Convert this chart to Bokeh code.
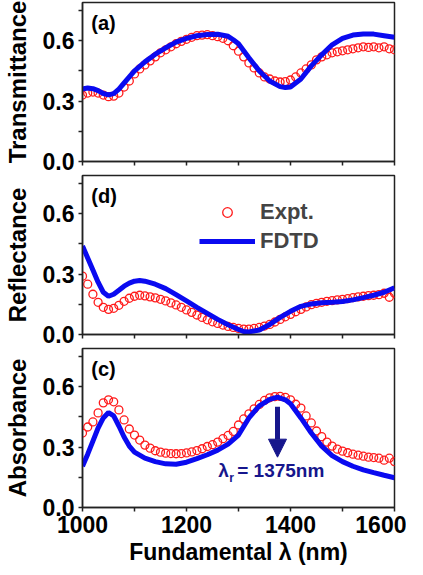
from bokeh.plotting import figure
from bokeh.layouts import column
from bokeh.models import (FixedTicker, Range1d, Legend, LegendItem, Label, Arrow,
                          NormalHead, NumeralTickFormatter, CustomLabelingPolicy)
from bokeh.embed import file_html
from bokeh.resources import INLINE

# ---------------- data ----------------
wl_expt = [1000, 1010, 1020, 1030, 1040, 1050, 1060, 1070, 1080, 1090,
           1100, 1110, 1120, 1130, 1140, 1150, 1160, 1170, 1180, 1190,
           1200, 1210, 1220, 1230, 1240, 1250, 1260, 1270, 1280, 1290,
           1300, 1310, 1320, 1330, 1340, 1350, 1360, 1370, 1380, 1390,
           1400, 1410, 1420, 1430, 1440, 1450, 1460, 1470, 1480, 1490,
           1500, 1510, 1520, 1530, 1540, 1550, 1560, 1570, 1580, 1590, 1600]

T_expt = [0.33, 0.34, 0.345, 0.34, 0.33, 0.322, 0.325, 0.34, 0.37, 0.40,
          0.435, 0.46, 0.48, 0.50, 0.52, 0.54, 0.555, 0.57, 0.585, 0.597,
          0.607, 0.617, 0.625, 0.628, 0.63, 0.625, 0.62, 0.612, 0.60, 0.575,
          0.548, 0.52, 0.49, 0.465, 0.44, 0.42, 0.41, 0.40, 0.395, 0.397,
          0.405, 0.42, 0.44, 0.46, 0.48, 0.505, 0.52, 0.53, 0.54, 0.545,
          0.55, 0.555, 0.56, 0.565, 0.57, 0.567, 0.57, 0.565, 0.57, 0.56, 0.555]

R_expt = [0.29, 0.25, 0.20, 0.16, 0.135, 0.125, 0.13, 0.145, 0.165, 0.18,
          0.19, 0.195, 0.192, 0.187, 0.182, 0.175, 0.167, 0.157, 0.147, 0.135,
          0.122, 0.11, 0.097, 0.085, 0.073, 0.063, 0.055, 0.047, 0.04, 0.035,
          0.03, 0.027, 0.027, 0.03, 0.035, 0.042, 0.05, 0.062, 0.075, 0.088,
          0.10, 0.113, 0.125, 0.137, 0.148, 0.155, 0.16, 0.165, 0.168, 0.172,
          0.175, 0.178, 0.183, 0.187, 0.19, 0.193, 0.195, 0.198, 0.205, 0.185, 0.205]

A_expt = [0.37, 0.40, 0.425, 0.47, 0.52, 0.535, 0.525, 0.485, 0.435, 0.39,
          0.36, 0.335, 0.31, 0.295, 0.282, 0.275, 0.27, 0.268, 0.267, 0.268,
          0.271, 0.276, 0.283, 0.292, 0.303, 0.312, 0.325, 0.342, 0.358, 0.378,
          0.41, 0.44, 0.465, 0.49, 0.512, 0.532, 0.545, 0.551, 0.552, 0.547,
          0.535, 0.513, 0.494, 0.455, 0.42, 0.38, 0.352, 0.325, 0.305, 0.29,
          0.28, 0.272, 0.265, 0.26, 0.255, 0.25, 0.248, 0.245, 0.235, 0.245, 0.228]

wl_T_fdtd = [1000, 1010, 1020, 1030, 1040, 1050, 1060, 1070, 1080, 1090, 1100,
             1120, 1140, 1160, 1180, 1200, 1220, 1240, 1260, 1280, 1290, 1300,
             1320, 1340, 1360, 1380, 1390, 1400, 1420, 1440, 1460, 1480, 1500,
             1520, 1540, 1560, 1580, 1600]
T_fdtd = [0.36, 0.365, 0.362, 0.352, 0.338, 0.331, 0.337, 0.36, 0.39, 0.42, 0.45,
          0.495, 0.533, 0.565, 0.593, 0.612, 0.625, 0.631, 0.632, 0.622, 0.605, 0.585,
          0.515, 0.45, 0.40, 0.372, 0.368, 0.37, 0.41, 0.475, 0.53, 0.58, 0.612,
          0.628, 0.634, 0.633, 0.625, 0.617]

wl_R_fdtd = [1000, 1010, 1020, 1030, 1040, 1050, 1060, 1070, 1080, 1090, 1100,
             1110, 1120, 1140, 1160, 1180, 1200, 1220, 1240, 1260, 1280, 1300,
             1310, 1320, 1340, 1360, 1380, 1400, 1420, 1440, 1460, 1480, 1500,
             1520, 1540, 1560, 1580, 1600]
R_fdtd = [0.44, 0.38, 0.32, 0.26, 0.21, 0.19, 0.20, 0.22, 0.24, 0.255, 0.265,
          0.268, 0.265, 0.25, 0.228, 0.198, 0.167, 0.135, 0.105, 0.075, 0.048, 0.025,
          0.015, 0.013, 0.022, 0.05, 0.085, 0.115, 0.14, 0.152, 0.158, 0.16, 0.164,
          0.172, 0.183, 0.195, 0.21, 0.232]

wl_A_fdtd = [1000, 1010, 1020, 1030, 1040, 1050, 1060, 1070, 1080, 1090, 1100,
             1120, 1140, 1160, 1180, 1200, 1220, 1240, 1260, 1280, 1300, 1320,
             1340, 1360, 1375, 1390, 1400, 1420, 1440, 1460, 1480, 1500, 1520,
             1540, 1560, 1580, 1600]
A_fdtd = [0.205, 0.265, 0.33, 0.395, 0.445, 0.472, 0.455, 0.405, 0.35, 0.305, 0.275,
          0.245, 0.228, 0.217, 0.215, 0.225, 0.243, 0.262, 0.285, 0.315, 0.36, 0.445,
          0.505, 0.537, 0.548, 0.535, 0.515, 0.445, 0.37, 0.305, 0.258, 0.228, 0.205,
          0.187, 0.173, 0.16, 0.148]

x_ticks = [1000, 1200, 1400, 1600]
x_minor = [1100, 1300, 1500]
y_ticks = [0.0, 0.3, 0.6]
y_minor = [0.15, 0.45, 0.75]
panel_tags = ["(a)", "(d)", "(c)"]
y_titles = ["Transmittance", "Reflectance", "Absorbance"]
x_title = "Fundamental λ (nm)"
resonance_nm = 1375

FONT = "Liberation Sans"
RED = "#ff1a1a"
BLUE = "#0a0af0"
NAVY = "#16168c"
FRAME_H = 159


def make_panel(idx, wl_e, y_e, wl_f, y_f, last):
    p = figure(frame_width=312, frame_height=FRAME_H,
               x_range=Range1d(1000, 1600), y_range=Range1d(0, 0.79),
               output_backend="svg", toolbar_location=None,
               min_border_left=76, min_border_right=12,
               min_border_top=2 if idx == 0 else 1,
               min_border_bottom=13 if not last else 8)
    p.xgrid.visible = False
    p.ygrid.visible = False
    p.outline_line_color = "#222222"
    p.outline_line_width = 1.5
    p.outline_line_alpha = 1.0
    p.background_fill_color = "white"
    p.border_fill_color = "white"

    for ax in (p.xaxis[0], p.yaxis[0]):
        ax.axis_line_width = 1.5
        ax.axis_line_color = "#222222"
        ax.major_tick_in = 0
        ax.major_tick_out = 4
        ax.minor_tick_in = 0
        ax.minor_tick_out = 4
        ax.major_tick_line_width = 1.5
        ax.minor_tick_line_width = 1.5
        ax.major_tick_line_color = "#222222"
        ax.minor_tick_line_color = "#222222"
        ax.major_label_text_font = FONT
        ax.major_label_text_font_style = "bold"
        ax.major_label_text_color = "black"
        ax.axis_label_text_font = FONT
        ax.axis_label_text_font_style = "bold"
        ax.axis_label_text_color = "black"

    p.xaxis.ticker = FixedTicker(ticks=x_ticks, minor_ticks=x_minor)
    p.yaxis.ticker = FixedTicker(ticks=y_ticks, minor_ticks=y_minor)
    p.yaxis.formatter = NumeralTickFormatter(format="0.0")
    p.yaxis.major_label_text_font_size = "23px"
    p.yaxis.major_label_standoff = 4
    p.yaxis.axis_label = y_titles[idx]
    p.yaxis.axis_label_text_font_size = "24px"
    p.yaxis.axis_label_standoff = 9

    if last:
        p.xaxis.major_label_text_font_size = "23px"
        p.xaxis.major_label_standoff = 4
        p.xaxis.axis_label = x_title
        p.xaxis.axis_label_text_font_size = "23px"
        p.xaxis.axis_label_standoff = 3
    else:
        # ticks only: no tick labels drawn (and no space kept) on upper panels
        p.xaxis.major_label_policy = CustomLabelingPolicy(code="return new Set()")
        p.xaxis.major_label_text_font_size = "0px"
        p.xaxis.major_label_standoff = 0

    r_e = p.scatter(wl_e, y_e, marker="circle", size=8, fill_color=None,
                    line_color=RED, line_width=1.3)
    r_f = p.line(wl_f, y_f, line_color=BLUE, line_width=5)

    p.add_layout(Label(x=1017, y=0.69, text=panel_tags[idx], text_font=FONT,
                       text_font_style="bold", text_font_size="20px",
                       text_baseline="middle", text_align="left",
                       text_color="black"))
    return p, r_e, r_f


p1, _, _ = make_panel(0, wl_expt, T_expt, wl_T_fdtd, T_fdtd, False)
p2, re2, rf2 = make_panel(1, wl_expt, R_expt, wl_R_fdtd, R_fdtd, False)
p3, _, _ = make_panel(2, wl_expt, A_expt, wl_A_fdtd, A_fdtd, True)

legend = Legend(items=[LegendItem(label="Expt.", renderers=[re2]),
                       LegendItem(label="FDTD", renderers=[rf2])],
                location=(117, 80), border_line_color=None,
                background_fill_alpha=0, padding=0, margin=0, spacing=3,
                label_height=24, glyph_height=24, glyph_width=56,
                label_standoff=5, label_text_font=FONT,
                label_text_font_style="bold", label_text_font_size="22px")
p2.add_layout(legend)

# annotation in panel (c)
p3.add_layout(Arrow(end=NormalHead(size=18, fill_color=NAVY, line_color=NAVY),
                    x_start=resonance_nm, y_start=0.50,
                    x_end=resonance_nm, y_end=0.25,
                    line_color=NAVY, line_width=5))
ann_x = 1261
ann_y = 0.133
p3.add_layout(Label(x=ann_x, y=ann_y, text="λ", text_font=FONT,
                    text_font_style="bold", text_font_size="19px",
                    text_color=NAVY, text_align="left"))
p3.add_layout(Label(x=ann_x, y=ann_y, x_offset=11, y_offset=-4, text="r",
                    text_font=FONT, text_font_style="bold",
                    text_font_size="12px", text_color=NAVY, text_align="left"))
p3.add_layout(Label(x=ann_x, y=ann_y, x_offset=19,
                    text="= %dnm" % resonance_nm, text_font=FONT,
                    text_font_style="bold", text_font_size="19px",
                    text_color=NAVY, text_align="left"))

layout = column(p1, p2, p3)
open("out.html", "w").write(file_html(layout, INLINE))
